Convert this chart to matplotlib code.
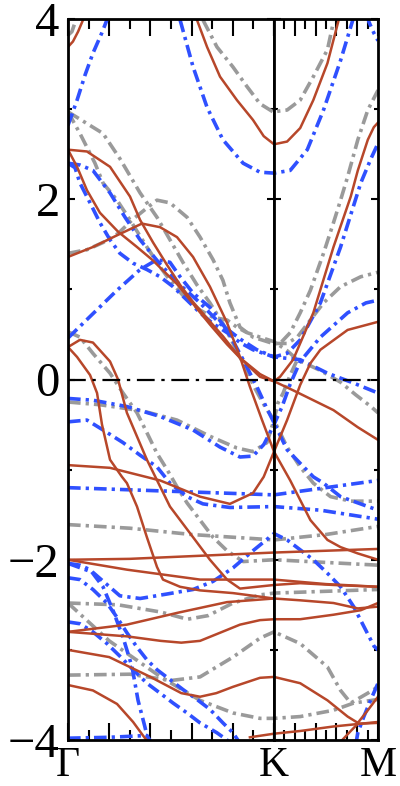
import matplotlib
matplotlib.use("Agg")
import matplotlib.pyplot as plt
from matplotlib import font_manager
from matplotlib.ticker import MultipleLocator
import matplotlib.transforms as mtransforms

# ---------------- data ----------------
k_sym = [0.0, 1.0, 1.5]
k_labels = ["\u0393", "K", "M"]
y_ticks = [-4, -2, 0, 2, 4]
y_ticklabels = ["\u22124", "\u22122", "0", "2", "4"]

red_bands = [
    ([0, 0.024, 0.049, 0.073, 0.08], [3.69, 3.75, 3.86, 3.99, 4.05]),
    ([0.626, 0.675, 0.738, 0.820, 0.898, 0.95, 1.0, 1.063, 1.126, 1.189, 1.257, 1.311],
     [3.99, 3.69, 3.36, 3.10, 2.88, 2.70, 2.61, 2.64, 2.79, 3.10, 3.51, 3.99]),
    ([0, 0.121, 0.238, 0.359, 0.447, 0.529, 0.607, 0.689, 0.772, 0.835, 0.883, 0.942, 1.0, 1.078, 1.175, 1.257, 1.320, 1.403, 1.5],
     [1.36, 1.47, 1.60, 1.73, 1.69, 1.58, 1.36, 1.03, 0.63, 0.25, -0.08, -0.45, -0.80, -1.12, -1.56, -1.78, -1.86, -1.93, -2.0]),
    ([0, 0.044, 0.092, 0.155, 0.243, 0.335, 0.413, 0.461, 0.529, 0.607, 0.689, 0.772, 0.835, 0.932, 1.0, 1.092, 1.286, 1.403, 1.5],
     [2.55, 2.36, 2.10, 1.85, 1.64, 1.47, 1.32, 1.21, 1.06, 0.84, 0.61, 0.39, 0.24, 0.06, -0.02, -0.12, -0.34, -0.53, -0.67]),
    ([0, 0.092, 0.204, 0.301, 0.350, 0.413, 0.481, 0.544, 0.607, 0.675, 0.752, 0.835, 0.932, 1.0, 1.029, 1.092, 1.189, 1.286, 1.369, 1.403, 1.451, 1.48, 1.5],
     [2.55, 2.53, 2.36, 2.03, 1.77, 1.52, 1.27, 1.05, 0.86, 0.68, 0.48, 0.24, 0.03, -0.02, 0.03, 0.22, 0.74, 1.47, 2.03, 2.32, 2.66, 2.80, 2.85]),
    ([0, 0.044, 0.107, 0.141, 0.165, 0.204, 0.262, 0.286, 0.335, 0.383, 0.432, 0.461, 0.544, 0.641, 0.801, 1.0, 1.126, 1.286, 1.403, 1.5],
     [0.36, 0.25, 0.05, -0.15, -0.50, -0.89, -1.08, -1.15, -1.41, -1.75, -2.08, -2.22, -2.30, -2.34, -2.37, -2.43, -2.45, -2.48, -2.54, -2.52]),
    ([0, 0.058, 0.121, 0.204, 0.243, 0.286, 0.383, 0.495, 0.607, 0.689, 0.772, 0.835, 1.0, 1.126, 1.286, 1.5],
     [0.36, 0.44, 0.41, 0.20, 0.0, -0.37, -0.89, -1.41, -1.75, -2.0, -2.22, -2.32, -2.28, -2.26, -2.28, -2.30]),
    ([0, 0.204, 0.447, 0.641, 0.786, 0.898, 0.95, 1.0, 1.063, 1.126, 1.175, 1.223, 1.354, 1.5],
     [-0.95, -0.98, -1.12, -1.30, -1.38, -1.26, -1.08, -0.80, -0.45, -0.06, 0.18, 0.33, 0.55, 0.64]),
    ([0, 0.3, 0.6, 0.8, 1.0, 1.25, 1.5], [-2.0, -1.99, -1.96, -1.94, -1.92, -1.90, -1.88]),
    ([0, 0.286, 0.641, 1.0, 1.25, 1.5], [-2.0, -2.11, -2.22, -2.22, -2.27, -2.30]),
    ([0, 0.286, 0.45, 0.55, 0.641, 0.738, 0.835, 0.932, 1.0, 1.126, 1.286, 1.417, 1.5],
     [-2.80, -2.85, -2.90, -2.92, -2.90, -2.81, -2.72, -2.67, -2.66, -2.66, -2.61, -2.56, -2.48]),
    ([0, 0.2, 0.4, 0.55, 0.641, 0.72, 0.801, 0.932, 1.0, 1.126, 1.257, 1.354, 1.403, 1.451, 1.5],
     [-3.0, -3.08, -3.30, -3.48, -3.52, -3.48, -3.41, -3.31, -3.30, -3.37, -3.56, -3.74, -3.81, -3.67, -3.52]),
    ([0, 0.286, 0.529, 0.772, 1.0], [-2.80, -2.72, -2.59, -2.47, -2.43]),
    ([0, 0.121, 0.238, 0.316, 0.364, 0.398], [-3.39, -3.45, -3.60, -3.80, -3.95, -4.05]),
    ([0.883, 1.0, 1.126, 1.286, 1.5], [-3.97, -3.93, -3.90, -3.85, -3.80]),
    ([1.32, 1.369, 1.403, 1.5], [-4.02, -3.90, -3.82, -3.81]),
]

blue_bands = [
    ([0, 0.044, 0.083, 0.121, 0.165, 0.189, 0.195], [2.82, 3.10, 3.38, 3.62, 3.85, 3.99, 4.05]),
    ([0.544, 0.607, 0.675, 0.752, 0.850, 0.932, 1.0, 1.078, 1.160, 1.238, 1.320, 1.379],
     [3.99, 3.47, 3.02, 2.66, 2.40, 2.30, 2.29, 2.32, 2.55, 2.99, 3.54, 3.99]),
    ([1.45, 1.456, 1.481, 1.5], [4.05, 3.97, 3.84, 3.76]),
    ([0, 0.034, 0.058, 0.107, 0.155, 0.204, 0.252, 0.316, 0.383, 0.447, 0.510, 0.578, 0.641, 0.704, 0.772, 0.835, 0.898, 1.0, 1.126, 1.257, 1.383, 1.5],
     [2.40, 2.35, 2.18, 1.96, 1.74, 1.55, 1.40, 1.29, 1.22, 1.14, 1.03, 0.88, 0.74, 0.62, 0.52, 0.41, 0.33, 0.25, 0.22, 0.07, -0.04, -0.15]),
    ([0, 0.058, 0.121, 0.204, 0.277, 0.350, 0.447, 0.544, 0.641, 0.738, 0.835, 0.917, 1.0, 1.063, 1.126, 1.223, 1.320, 1.417, 1.466, 1.5],
     [2.40, 2.38, 2.32, 2.07, 1.80, 1.55, 1.28, 1.05, 0.85, 0.62, 0.45, 0.33, 0.25, 0.29, 0.44, 0.85, 1.47, 2.18, 2.45, 2.62]),
    ([0, 0.121, 0.238, 0.350, 0.432, 0.495, 0.544, 0.607, 0.689, 0.772, 0.850, 0.917, 0.961, 1.0, 1.063, 1.126, 1.189, 1.238, 1.32, 1.5],
     [0.46, 0.73, 0.99, 1.22, 1.33, 1.30, 1.14, 0.96, 0.80, 0.55, 0.22, -0.08, -0.30, -0.48, -0.78, -0.93, -1.08, -1.15, -1.30, -1.45]),
    ([0, 0.121, 0.286, 0.447, 0.607, 0.738, 0.835, 0.898, 0.951, 1.0, 1.039, 1.078, 1.126, 1.223, 1.354, 1.442, 1.5],
     [-0.21, -0.23, -0.30, -0.41, -0.56, -0.75, -0.86, -0.85, -0.72, -0.50, -0.30, -0.05, 0.20, 0.47, 0.74, 0.85, 0.88]),
    ([0, 0.092, 0.170, 0.267, 0.350, 0.432, 0.495, 0.578, 0.655, 0.786, 1.0, 1.223, 1.5],
     [-0.47, -0.45, -0.56, -0.70, -0.84, -0.97, -1.15, -1.30, -1.38, -1.42, -1.41, -1.45, -1.55]),
    ([0, 0.5, 1.0, 1.25, 1.5], [-1.20, -1.24, -1.28, -1.20, -1.12]),
    ([0, 0.121, 0.252, 0.350, 0.481, 0.607, 0.704, 0.801, 0.898, 1.0, 1.063, 1.126, 1.189, 1.257, 1.320, 1.383, 1.432, 1.481, 1.5],
     [-2.04, -2.14, -2.40, -2.43, -2.38, -2.33, -2.24, -2.09, -1.90, -1.71, -1.78, -1.89, -2.0, -2.15, -2.30, -2.52, -2.74, -2.96, -3.0]),
    ([0, 0.058, 0.121, 0.189, 0.238, 0.286, 0.335, 0.383, 0.432, 0.495, 0.558, 0.626, 0.689, 0.752, 0.801, 0.83],
     [-2.20, -2.22, -2.33, -2.48, -2.64, -2.81, -2.97, -3.11, -3.22, -3.33, -3.44, -3.55, -3.66, -3.81, -3.92, -4.02]),
    ([0, 0.058, 0.121, 0.189, 0.252, 0.316, 0.383, 0.447, 0.510, 0.578, 0.641, 0.723, 0.772, 0.79],
     [-2.69, -2.71, -2.80, -2.93, -3.07, -3.22, -3.37, -3.48, -3.59, -3.70, -3.81, -3.92, -4.0, -4.05]),
    ([0, 0.058, 0.107, 0.170, 0.218, 0.267, 0.311, 0.340, 0.374, 0.388, 0.395],
     [-2.04, -2.06, -2.11, -2.30, -2.56, -2.86, -3.19, -3.56, -3.86, -4.0, -4.05]),
    ([0, 0.2, 0.383, 0.41], [-3.98, -3.97, -3.95, -4.05]),
    ([1.393, 1.403, 1.432, 1.466, 1.5], [-4.05, -3.92, -3.74, -3.55, -3.37]),
]

gray_bands = [
    ([0, 0.019, 0.034, 0.04], [3.82, 3.86, 3.96, 4.05]),
    ([0.655, 0.723, 0.80, 0.869, 0.932, 0.995, 1.063, 1.126, 1.189, 1.257, 1.286],
     [3.99, 3.69, 3.47, 3.25, 3.06, 2.97, 2.99, 3.10, 3.36, 3.66, 3.97]),
    ([0, 0.092, 0.170, 0.243, 0.316, 0.398, 0.432, 0.495, 0.578, 0.641, 0.704, 0.752, 0.786, 0.835, 0.898, 0.995, 1.029, 1.078, 1.126, 1.175, 1.238, 1.286, 1.320, 1.354, 1.403, 1.451, 1.5],
     [1.40, 1.44, 1.52, 1.62, 1.78, 1.93, 1.99, 1.96, 1.80, 1.58, 1.33, 1.10, 0.85, 0.58, 0.47, 0.40, 0.40, 0.52, 0.74, 0.99, 1.40, 1.74, 1.99, 2.25, 2.66, 2.99, 3.21]),
    ([0, 0.170, 0.252, 0.350, 0.432, 0.495, 0.558, 0.626, 0.689, 0.752, 0.835, 0.908, 0.956, 1.0, 1.063, 1.126, 1.189, 1.272, 1.369, 1.5],
     [2.97, 2.73, 2.45, 2.07, 1.80, 1.55, 1.30, 1.05, 0.85, 0.62, 0.25, -0.10, -0.30, -0.45, -0.75, -0.97, -1.15, -1.30, -1.35, -1.35]),
    ([0, 0.058, 0.131, 0.170, 0.238, 0.301, 0.383, 0.447, 0.495, 0.578, 0.641, 0.704, 0.772, 0.820, 0.869, 0.932, 1.0, 1.063, 1.112, 1.223, 1.320, 1.393, 1.466, 1.5],
     [2.97, 2.73, 2.40, 2.18, 1.99, 1.77, 1.47, 1.25, 1.10, 0.88, 0.77, 0.69, 0.66, 0.58, 0.52, 0.47, 0.42, 0.32, 0.22, 0.10, -0.03, -0.17, -0.30, -0.37]),
    ([1.0, 1.063, 1.112, 1.175, 1.238, 1.320, 1.417, 1.5], [0.40, 0.40, 0.47, 0.66, 0.85, 1.03, 1.14, 1.19]),
    ([0, 0.155, 0.364, 0.529, 0.689, 0.820, 0.898, 0.966, 0.981, 1.0, 1.019, 1.044, 1.078, 1.112],
     [-0.25, -0.28, -0.35, -0.45, -0.63, -0.76, -0.80, -0.70, -0.59, -0.45, -0.26, -0.15, 0.05, 0.22]),
    ([0, 0.058, 0.121, 0.204, 0.267, 0.335, 0.383, 0.432, 0.481, 0.529, 0.578, 0.641, 0.704, 0.772, 0.850, 1.0, 1.25, 1.5],
     [0.53, 0.47, 0.29, 0.07, -0.15, -0.37, -0.59, -0.82, -1.0, -1.19, -1.37, -1.56, -1.75, -1.90, -2.02, -2.0, -2.03, -2.06]),
    ([0, 0.3, 0.6, 1.0, 1.25, 1.5], [-1.61, -1.65, -1.72, -1.78, -1.72, -1.63]),
    ([0, 0.243, 0.45, 0.58, 0.68, 0.801, 0.932, 1.0, 1.25, 1.5],
     [-2.48, -2.50, -2.58, -2.66, -2.62, -2.48, -2.39, -2.37, -2.35, -2.33]),
    ([0, 0.3, 0.5, 0.641, 0.801, 0.932, 1.0, 1.126, 1.257, 1.320, 1.369, 1.451, 1.5],
     [-3.28, -3.27, -3.34, -3.30, -3.08, -2.87, -2.80, -2.93, -3.19, -3.45, -3.59, -3.48, -3.41]),
    ([0, 0.2, 0.45, 0.641, 0.801, 0.932, 1.0, 1.126, 1.286, 1.383, 1.5],
     [-2.48, -2.90, -3.30, -3.56, -3.70, -3.76, -3.76, -3.74, -3.67, -3.59, -3.55]),
]

# ---------------- style ----------------
RED = "#b7472a"
BLUE = "#2f50ff"
GRAY = "#9a9a9a"
DASHDOT = (0, (3.5, 1.4, 0.9, 1.4))
available = {f.name for f in font_manager.fontManager.ttflist}
SERIF = [n for n in ["Liberation Serif", "Nimbus Roman", "Times New Roman", "DejaVu Serif"]
         if n in available] or ["serif"]
plt.rcParams["font.family"] = SERIF

fig = plt.figure(figsize=(4.0, 7.86), dpi=100)
W, H = 400.0, 786.0
left, right, kx, top, bottom = 68, 378, 274, 19, 740
ax1 = fig.add_axes([left / W, 1 - bottom / H, (kx - left) / W, (bottom - top) / H])
ax2 = fig.add_axes([kx / W, 1 - bottom / H, (right - kx) / W, (bottom - top) / H])

for ax, (x0, x1) in ((ax1, (k_sym[0], k_sym[1])), (ax2, (k_sym[1], k_sym[2]))):
    for kk, ee in gray_bands:
        ax.plot(kk, ee, color=GRAY, lw=2.6, ls=DASHDOT, zorder=2)
    for kk, ee in blue_bands:
        ax.plot(kk, ee, color=BLUE, lw=2.6, ls=DASHDOT, zorder=3)
    for kk, ee in red_bands:
        ax.plot(kk, ee, color=RED, lw=1.8, ls="-", zorder=4)
    ax.axhline(0, color="black", lw=1.6, ls=(0, (8, 3, 1.5, 3)), zorder=5)
    ax.set_xlim(x0, x1)
    ax.set_ylim(-4, 4)
    for s in ax.spines.values():
        s.set_linewidth(2.0)
        s.set_zorder(6)
    span = x1 - x0
    ax.xaxis.set_major_locator(MultipleLocator(span / 5))
    ax.xaxis.set_minor_locator(MultipleLocator(span / 10))
    ax.yaxis.set_major_locator(MultipleLocator(2))
    ax.yaxis.set_minor_locator(MultipleLocator(1))
    ax.tick_params(axis="x", which="major", direction="in", length=12, width=1.5,
                   top=True, bottom=True, labelbottom=False)
    ax.tick_params(axis="x", which="minor", direction="in", length=7, width=1.5,
                   top=True, bottom=True)
    ax.tick_params(axis="y", which="major", direction="in", length=5, width=1.5,
                   left=True, right=True, labelleft=False)
    ax.tick_params(axis="y", which="minor", direction="in", length=3, width=1.5,
                   left=True, right=True)

ax1.set_yticks(y_ticks)
ax1.set_yticklabels(y_ticklabels, fontfamily=SERIF, fontsize=35)
ax1.tick_params(axis="y", which="major", labelleft=True, pad=6)

for kk, lab in zip(k_sym, k_labels):
    ax = ax1 if kk < 1.0 else ax2
    trans = mtransforms.blended_transform_factory(ax.transData, ax.transAxes)
    ax.text(kk, -0.0625, lab, transform=trans, ha="center", va="bottom",
            fontsize=30, fontfamily=SERIF, clip_on=False)

fig.savefig("out.png", dpi=100)
